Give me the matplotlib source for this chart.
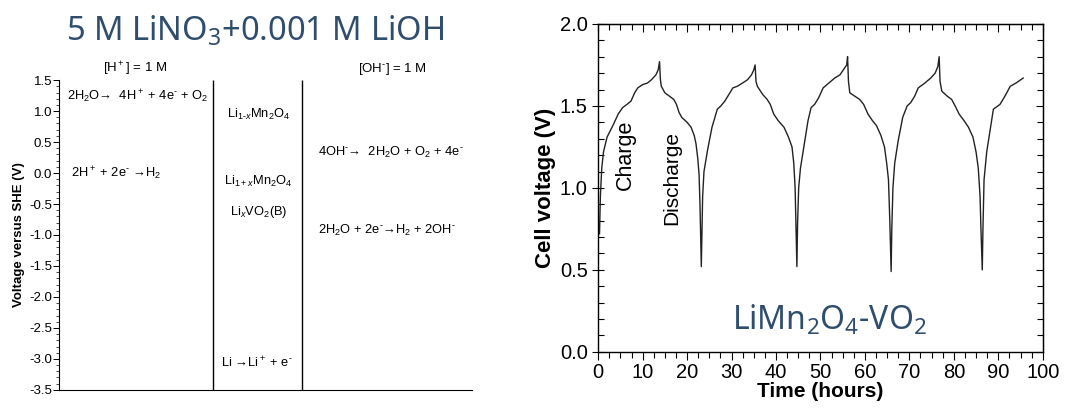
import numpy as np
import matplotlib; matplotlib.use("Agg")
import matplotlib.pyplot as plt
from matplotlib.ticker import MultipleLocator

plt.rcParams["font.family"] = ["Liberation Sans", "DejaVu Sans"]
plt.rcParams["mathtext.default"] = "regular"
plt.rcParams["mathtext.fontset"] = "custom"
plt.rcParams["mathtext.rm"] = "Liberation Sans"
plt.rcParams["mathtext.it"] = "Liberation Sans:italic"
plt.rcParams["mathtext.bf"] = "Liberation Sans:bold"

BLUE = "#2f4e6e"
NEG = r"$^{\text{-}}$"

# left panel: electrochemical stability window (V vs SHE)
ACID_LABELS = [r"2H$_2$O→  4H$^+$ + 4e" + NEG + r" + O$_2$", r"2H$^+$ + 2e" + NEG + r" →H$_2$"]
ACID_V = [1.23, 0.0]
ELECTRODE_LABELS = [r"Li$_{1\text{-}\mathit{x}}$Mn$_2$O$_4$", r"Li$_{1+\mathit{x}}$Mn$_2$O$_4$",
                    r"Li$_\mathit{x}$VO$_2$(B)"]
ELECTRODE_V = [0.94, -0.13, -0.63]
LI_LABEL, LI_V = r"Li →Li$^+$ + e" + NEG, -3.06
BASE_LABELS = ["4OH" + NEG + r"→  2H$_2$O + O$_2$ + 4e" + NEG,
               r"2H$_2$O + 2e" + NEG + r"→H$_2$ + 2OH" + NEG]
BASE_V = [0.34, -0.92]

# right panel: LiMn2O4 / VO2 cell cycling
TIME = [0.3, 0.5, 0.8, 1.2, 2.0, 3.3, 4.5, 5.5, 6.5, 7.4, 8.2, 8.9, 10.0, 11.1, 12.0, 13.0, 13.5, 13.8,
        14.0, 14.2, 15.0, 16.0, 17.0, 17.6, 18.2, 18.8, 20.0, 20.9, 21.6, 22.0, 22.4, 22.7, 22.9, 23.1, 23.2,
        23.35, 23.5, 23.8, 24.6, 25.6, 26.8, 27.6, 28.5, 29.4, 30.3, 31.3, 32.5, 33.6, 34.5, 35.0, 35.3,
        35.5, 35.8, 37.0, 38.0, 38.7, 39.5, 40.5, 41.8, 42.8, 43.6, 44.0, 44.3, 44.5, 44.7,
        44.85, 45.1, 45.5, 46.5, 47.2, 47.9, 48.7, 49.6, 50.6, 51.9, 53.2, 54.4, 55.4, 55.9, 56.1,
        56.3, 56.6, 57.7, 58.8, 59.7, 60.7, 61.7, 62.6, 63.6, 64.4, 64.9, 65.3, 65.6, 65.9,
        66.05, 66.3, 66.7, 67.5, 68.5, 69.5, 70.3, 71.2, 72.0, 73.5, 74.8, 75.8, 76.4, 76.7,
        76.9, 77.3, 78.5, 79.5, 80.3, 81.2, 82.3, 83.3, 84.3, 85.0, 85.5, 85.9, 86.1, 86.4,
        86.55, 86.8, 87.4, 88.2, 88.9, 90.4, 91.5, 92.7, 94.0, 95.6]
VOLT = [0.72, 0.95, 1.12, 1.22, 1.31, 1.38, 1.45, 1.49, 1.51, 1.53, 1.58, 1.61, 1.63, 1.64, 1.66, 1.69, 1.72, 1.77,
        1.66, 1.62, 1.58, 1.56, 1.54, 1.51, 1.46, 1.43, 1.40, 1.37, 1.32, 1.27, 1.18, 1.08, 0.90, 0.65, 0.52,
        0.75, 0.95, 1.10, 1.23, 1.37, 1.48, 1.50, 1.53, 1.57, 1.61, 1.62, 1.64, 1.66, 1.69, 1.72, 1.75,
        1.65, 1.62, 1.57, 1.54, 1.51, 1.45, 1.41, 1.37, 1.31, 1.25, 1.15, 1.00, 0.75, 0.52,
        0.78, 1.00, 1.12, 1.29, 1.41, 1.49, 1.51, 1.55, 1.61, 1.64, 1.67, 1.69, 1.73, 1.75, 1.80,
        1.65, 1.58, 1.56, 1.54, 1.51, 1.45, 1.41, 1.38, 1.32, 1.25, 1.15, 1.05, 0.80, 0.49,
        0.75, 1.00, 1.15, 1.29, 1.43, 1.50, 1.52, 1.56, 1.61, 1.64, 1.67, 1.70, 1.74, 1.80,
        1.65, 1.59, 1.56, 1.54, 1.50, 1.45, 1.41, 1.37, 1.31, 1.22, 1.12, 0.95, 0.75, 0.50,
        0.75, 1.05, 1.22, 1.36, 1.48, 1.51, 1.56, 1.62, 1.64, 1.67]

fig = plt.figure(figsize=(10.72, 4.13), dpi=100)

# ---- left panel
axL = fig.add_axes([0.055, 0.056, 0.385, 0.75])
axL.set_xlim(0, 1); axL.set_ylim(-3.5, 1.5)
for s in ("top", "right"):
    axL.spines[s].set_visible(False)
axL.spines["left"].set_linewidth(0.8); axL.spines["bottom"].set_linewidth(0.8)
axL.set_xticks([])
axL.yaxis.set_major_locator(MultipleLocator(0.5))
axL.yaxis.set_minor_locator(MultipleLocator(0.1))
axL.yaxis.set_major_formatter(lambda v, p: f"{v:.1f}")
axL.tick_params(axis="y", which="major", labelsize=9.5, length=4, width=0.7, pad=1)
axL.tick_params(axis="y", which="minor", length=2, width=0.5)
axL.set_ylabel("Voltage versus SHE (V)", fontsize=9.5, fontweight="bold", labelpad=3)
axL.vlines([0.373, 0.588], -3.5, 1.5, color="black", lw=1.0)
axL.text(0.184, 1.68, r"[H$^+$] = 1 M", ha="center", va="center", fontsize=9.5, clip_on=False)
axL.text(0.809, 1.68, "[OH" + NEG + "] = 1 M", ha="center", va="center", fontsize=9.5, clip_on=False)
for lbl, v, x0 in zip(ACID_LABELS, ACID_V, [0.019, 0.029]):
    axL.text(x0, v, lbl, ha="left", va="center", fontsize=9.3)
for lbl, v in zip(ELECTRODE_LABELS, ELECTRODE_V):
    axL.text(0.484, v, lbl, ha="center", va="center", fontsize=9.3)
axL.text(0.392, LI_V, LI_LABEL, ha="left", va="center", fontsize=9.3)
for lbl, v in zip(BASE_LABELS, BASE_V):
    axL.text(0.627, v, lbl, ha="left", va="center", fontsize=9.3)

fig.text(0.238, 0.925, r"5 M LiNO$_3$+0.001 M LiOH", ha="center", va="center",
         fontsize=23.5, color=BLUE, family=["Noto Sans", "DejaVu Sans"])

# ---- right panel
axR = fig.add_axes([0.558, 0.148, 0.4147, 0.794])
axR.plot(TIME, VOLT, color="#222222", lw=1.0)
axR.set_xlim(0, 100); axR.set_ylim(0, 2.0)
axR.xaxis.set_major_locator(MultipleLocator(10))
axR.xaxis.set_minor_locator(MultipleLocator(2.5))
axR.yaxis.set_major_locator(MultipleLocator(0.5))
axR.yaxis.set_minor_locator(MultipleLocator(0.1))
axR.yaxis.set_major_formatter(lambda v, p: f"{v:.1f}")
axR.tick_params(axis="y", which="both", labelsize=14.5, width=0.8, right=False)
axR.tick_params(axis="y", which="major", direction="inout", length=8)
axR.tick_params(axis="y", which="minor", direction="in", length=4)
axR.tick_params(axis="x", which="both", direction="out", labelsize=14.5, width=0.8, pad=2, top=False)
axR.tick_params(axis="x", which="major", length=6)
axR.tick_params(axis="x", which="minor", length=4)
secx = axR.secondary_xaxis("top")
secx.xaxis.set_major_locator(MultipleLocator(10))
secx.xaxis.set_minor_locator(MultipleLocator(2.5))
secx.tick_params(which="both", direction="in", labeltop=False, width=0.8)
secx.tick_params(which="major", length=6); secx.tick_params(which="minor", length=4)
secy = axR.secondary_yaxis("right")
secy.yaxis.set_major_locator(MultipleLocator(0.5))
secy.yaxis.set_minor_locator(MultipleLocator(0.1))
secy.tick_params(which="both", direction="in", labelright=False, width=0.8)
secy.tick_params(which="major", length=5); secy.tick_params(which="minor", length=4)
for s in axR.spines.values():
    s.set_linewidth(1.0)
axR.set_xlabel("Time (hours)", fontsize=15, fontweight="bold", labelpad=0)
axR.set_ylabel("Cell voltage (V)", fontsize=16, fontweight="bold", labelpad=3)
axR.text(6.1, 1.2, "Charge", rotation=90, ha="center", va="center", fontsize=15.5)
axR.text(16.5, 1.06, "Discharge", rotation=90, ha="center", va="center", fontsize=15)
axR.text(52, 0.195, r"LiMn$_2$O$_4$-VO$_2$", ha="center", va="center", fontsize=23,
         color=BLUE, family=["Noto Sans", "DejaVu Sans"])

fig.savefig("out.png", dpi=100)
